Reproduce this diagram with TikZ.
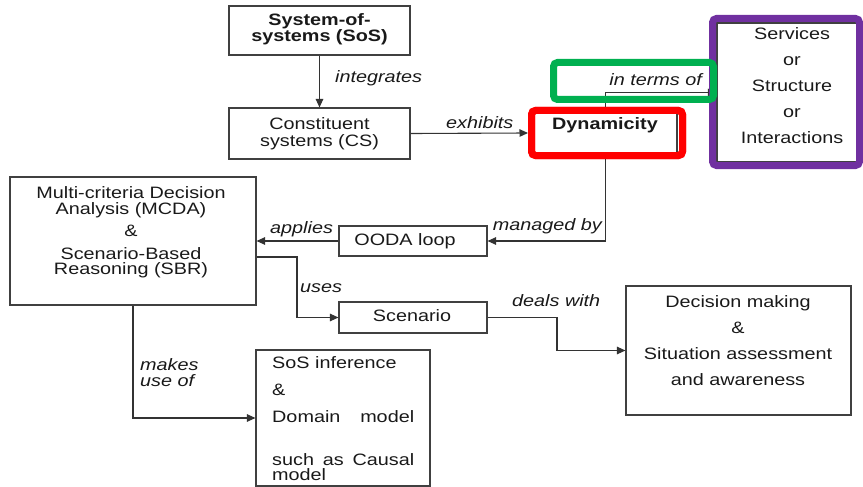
\documentclass[tikz,border=0pt]{standalone}
\usepackage{fontspec}
\setmainfont{Liberation Sans}[FakeStretch=1.2]
\usetikzlibrary{arrows.meta}
\begin{document}
\begin{tikzpicture}[x=1pt,y=-1pt,
  every node/.style={font=\fontsize{16.5}{17}\selectfont, text=black!90},
  box/.style={draw=black!75, line width=1.1pt, inner sep=0pt, rectangle},
  lbl/.style={font=\fontsize{16.5}{17}\selectfont\itshape, inner sep=0pt},
  arr/.style={draw=black!80, line width=1.1pt, -{Triangle[length=8.5pt,width=7.5pt]}},
  hl/.style={rectangle, line width=7pt, rounded corners=4pt, inner sep=0pt}
]
\useasboundingbox (0,0) rectangle (863,487);

% boxes
\node[box, minimum width=181, minimum height=49]  (sos)  at (319.5,30.5) {};
\node[box, minimum width=181, minimum height=51]  (cs)   at (319.5,133.5) {};
\node[box, minimum width=143, minimum height=41]  (dyn)  at (605.5,132.5) {};
\node[box, minimum width=141, minimum height=139] (serv) at (787.5,92.5) {};
\node[box, minimum width=148, minimum height=30]  (ooda) at (413,241) {};
\node[box, minimum width=246, minimum height=128] (mcda) at (133,241) {};
\node[box, minimum width=148, minimum height=31]  (scen) at (413,317.5) {};
\node[box, minimum width=225, minimum height=129] (dec)  at (738.5,350.5) {};
\node[box, minimum width=174, minimum height=136] (inf)  at (343,418) {};

% box texts
\node[align=center, font=\fontsize{16.5}{16.5}\selectfont\bfseries] at (319.5,29) {System-of-\\systems (SoS)};
\node[align=center] at (319.5,134) {Constituent\\systems (CS)};
\node[font=\fontsize{16.5}{17}\selectfont\bfseries] at (605,125) {Dynamicity};
\node[align=center, font=\fontsize{16.5}{26}\selectfont] at (792,86) {Services\\or\\Structure\\or\\Interactions};
\node at (405,241) {OODA loop};
\node at (412,316) {Scenario};
\node[align=center, font=\fontsize{16.5}{15.5}\selectfont] at (131,232.5)
  {Multi-criteria Decision\\Analysis (MCDA)\\[7pt]\&\\[7pt]Scenario-Based\\Reasoning (SBR)};
\node[align=center, font=\fontsize{16.5}{26}\selectfont] at (738,341)
  {Decision making\\\&\\Situation assessment\\and awareness};
\node[anchor=west, inner sep=0pt] at (272,363) {SoS inference};
\node[anchor=west, inner sep=0pt] at (272,390) {\&};
\node[anchor=west, inner sep=0pt] at (272,417) {\hbox to 142pt{Domain\hfill model}};
\node[anchor=west, inner sep=0pt] at (272,460) {\hbox to 142pt{such\hfill as\hfill Causal}};
\node[anchor=west, inner sep=0pt] at (272,475) {model};

% frame round Dynamicity, used as the target of the "exhibits" arrow
\node[hl, draw=red, minimum width=151, minimum height=45] (dynframe) at (607,133) {};

% connectors
\coordinate (usesbend) at (297,257);
\coordinate (dealsbend) at (557,334);
\draw[arr] (sos) -- (cs);
\draw[arr] (cs.east) -- (dynframe.west);
\draw[arr] (dyn.north) |- (serv.west);
\draw[arr] (dyn.south) |- (ooda.east);
\draw[arr] (ooda.west) -- (mcda.east);
\draw[arr] (mcda.east |- usesbend) -- (usesbend) |- (scen.west);
\draw[arr] (scen.east) -| (dealsbend) |- (dec.west);
\draw[arr] (mcda.south) |- (inf.west);

% connector labels
\node[lbl, anchor=west] at (335,78) {integrates};
\node[lbl, anchor=west] at (446,123) {exhibits};
\node[lbl, anchor=east] at (702,80) {in terms of};
\node[lbl, anchor=east] at (602,226) {managed by};
\node[lbl, anchor=west] at (270,229) {applies};
\node[lbl, anchor=west] at (300,288) {uses};
\node[lbl, anchor=west] at (512,301) {deals with};
\node[lbl, anchor=west] at (140,365) {makes};
\node[lbl, anchor=west] at (140,381) {use of};

% coloured highlight frames on top
\node[hl, draw={rgb,255:red,112;green,48;blue,160}, minimum width=147, minimum height=147] (servframe) at (786,92) {};
\node[hl, draw={rgb,255:red,0;green,176;blue,80}, minimum width=160, minimum height=37] (termsframe) at (633.5,81) {};
\node[hl, draw=red, minimum width=151, minimum height=45] at (dynframe) {};
\end{tikzpicture}
\end{document}
